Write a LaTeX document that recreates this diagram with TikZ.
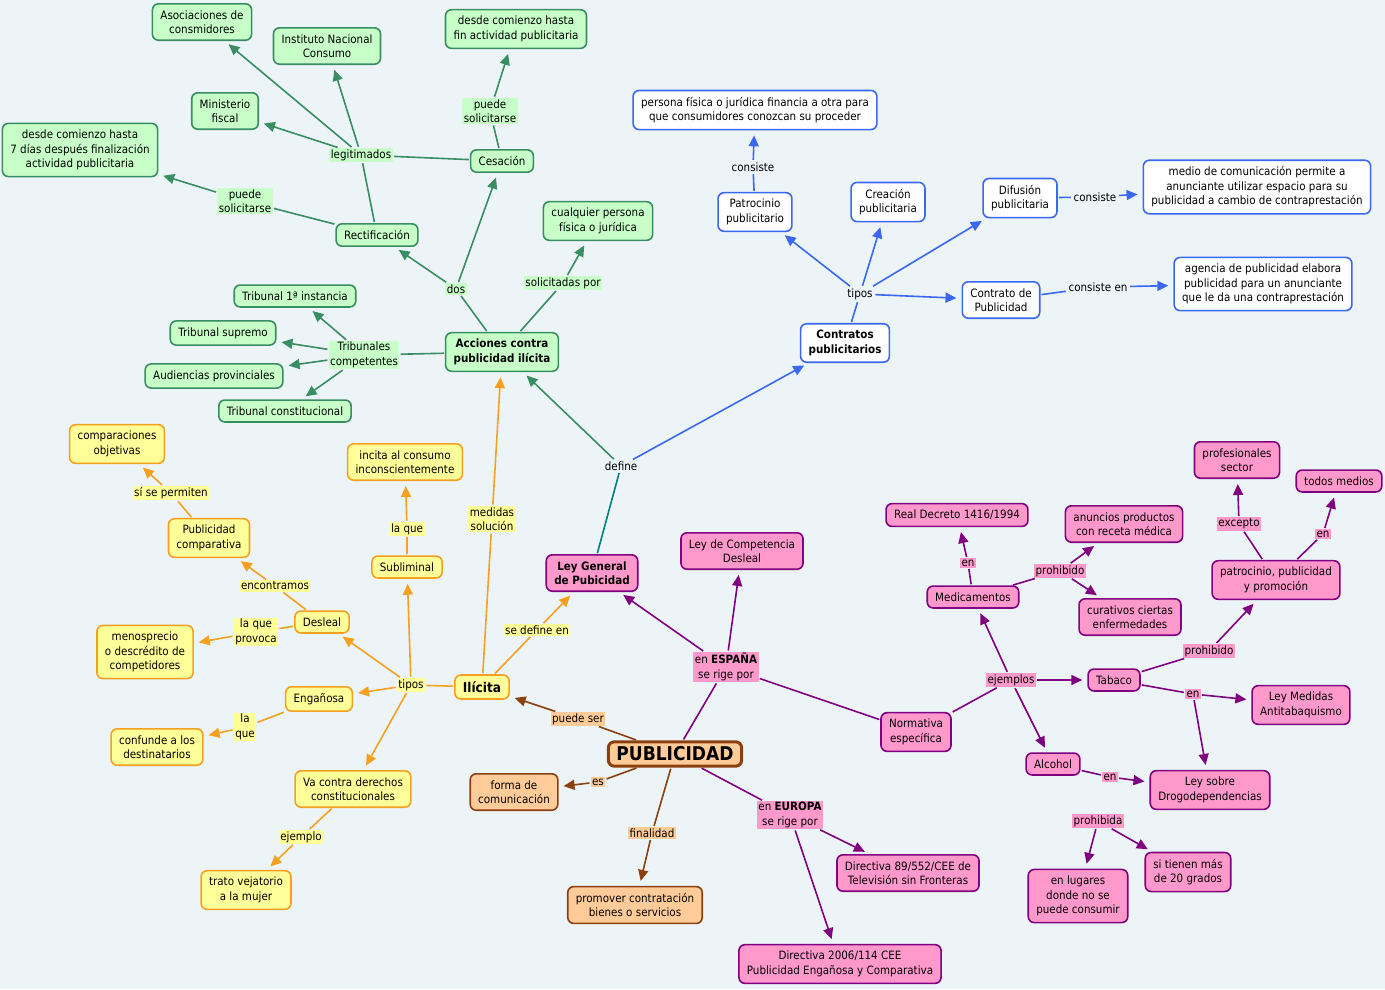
\documentclass[tikz,border=0pt]{standalone}
\usepackage{fontspec}
\setmainfont{DejaVu Sans}[FakeStretch=0.9]
\usetikzlibrary{arrows.meta}

\definecolor{bgc}{RGB}{237,244,247}
\definecolor{gfill}{RGB}{200,255,200}
\definecolor{gline}{RGB}{56,142,98}
\definecolor{bline}{RGB}{58,104,242}
\definecolor{yfill}{RGB}{255,255,153}
\definecolor{yline}{RGB}{246,160,34}
\definecolor{pfill}{RGB}{255,153,204}
\definecolor{pline}{RGB}{128,0,128}
\definecolor{cfill}{RGB}{255,204,153}
\definecolor{cline}{RGB}{139,64,16}
\definecolor{tline}{RGB}{0,128,128}

\newcommand{\mapfont}{\fontsize{11.5}{14.5}\selectfont}

\tikzstyle{box}=[draw, rounded corners=6pt, line width=1.6pt, align=center, inner xsep=8pt, inner ysep=6.5pt]
\tikzstyle{gbox}=[box, draw=gline, fill=gfill]
\tikzstyle{bbox}=[box, draw=bline, fill=white]
\tikzstyle{ybox}=[box, draw=yline, fill=yfill]
\tikzstyle{pbox}=[box, draw=pline, fill=pfill]
\tikzstyle{cbox}=[box, draw=cline, fill=cfill]
\tikzstyle{bold}=[font=\mapfont\bfseries]
\tikzstyle{lbl}=[inner sep=1.5pt, align=center]
\tikzstyle{link}=[line width=1.6pt, shorten <=1pt, shorten >=1pt]
\tikzstyle{tip}=[-{Triangle[length=11pt,width=10pt]}, shorten >=5pt]

\begin{document}
\begin{tikzpicture}[x=1pt,y=-1pt,font=\mapfont]
\fill[bgc] (0,0) rectangle (1385,989);
\useasboundingbox (0,0) rectangle (1385,989);

% acciones contra publicidad ilicita
\node[gbox] (asoc) at (202,22) {Asociaciones de\\consmidores};
\node[gbox] (inc) at (327,46) {Instituto Nacional\\Consumo};
\node[gbox] (minis) at (225,111) {Ministerio\\fiscal};
\node[gbox] (desde7) at (80,150) {desde comienzo hasta\\7 días después finalización\\actividad publicitaria};
\node[lbl, fill=gfill] (legit) at (361,155) {legitimados};
\node[gbox] (desdefin) at (516,29) {desde comienzo hasta\\fin actividad publicitaria};
\node[lbl, fill=gfill] (puede2) at (490,111) {puede\\solicitarse};
\node[gbox] (cesacion) at (502,161) {Cesación};
\node[lbl, fill=gfill] (puede1) at (245,201) {puede\\solicitarse};
\node[gbox] (rectif) at (377,235) {Rectificación};
\node[gbox] (cualq) at (598,221) {cualquier persona\\física o jurídica};
\node[lbl, fill=gfill] (solic) at (563,283) {solicitadas por};
\node[lbl, fill=gfill] (dos) at (456,289) {dos};
\node[gbox, bold] (acciones) at (502,352) {Acciones contra\\publicidad ilícita};
\node[lbl, fill=gfill] (trib) at (364,355) {Tribunales\\competentes};
\node[gbox] (t1) at (295,296) {Tribunal 1ª instancia};
\node[gbox] (tsup) at (223,333) {Tribunal supremo};
\node[gbox] (aud) at (214,376) {Audiencias provinciales};
\node[gbox] (tcons) at (285,411) {Tribunal constitucional};

% contratos
\node[bbox, bold] (contratos) at (845,343) {Contratos\\publicitarios};
\node[lbl] (tipos) at (860,294) {tipos};
\node[bbox] (patro) at (755,212) {Patrocinio\\publicitario};
\node[lbl] (consiste1) at (753,167) {consiste};
\node[bbox] (persona) at (755,110) {persona física o jurídica financia a otra para\\que consumidores conozcan su proceder};
\node[bbox] (creacion) at (888,202) {Creación\\publicitaria};
\node[bbox] (difusion) at (1020,198) {Difusión\\publicitaria};
\node[lbl] (consiste2) at (1095,197) {consiste};
\node[bbox] (medio) at (1257,187) {medio de comunicación permite a\\anunciante utilizar espacio para su\\publicidad a cambio de contraprestación};
\node[bbox] (contratop) at (1001,300) {Contrato de\\Publicidad};
\node[lbl] (consisteen) at (1098,287) {consiste en};
\node[bbox] (agencia) at (1263,284) {agencia de publicidad elabora\\publicidad para un anunciante\\que le da una contraprestación};
\node[lbl] (define) at (621,466) {define};

% ilicita
\node[ybox, font=\fontsize{13.5}{16}\selectfont\bfseries] (ilicita) at (482,687) {Ilícita};
\node[lbl, fill=yfill] (tipos2) at (411,685) {tipos};
\node[ybox] (desleal) at (322,622) {Desleal};
\node[ybox] (engan) at (319,699) {Engañosa};
\node[ybox] (sublim) at (407,567) {Subliminal};
\node[ybox] (va) at (353,789) {Va contra derechos\\constitucionales};
\node[lbl, fill=yfill] (encontramos) at (275,586) {encontramos};
\node[ybox] (pubcomp) at (209,538) {Publicidad\\comparativa};
\node[lbl, fill=yfill] (sise) at (171,493) {sí se permiten};
\node[ybox] (compar) at (117,444) {comparaciones\\objetivas};
\node[lbl, fill=yfill] (laque1) at (256,632) {la que\\provoca};
\node[ybox] (menos) at (145,652) {menosprecio\\o descrédito de\\competidores};
\node[lbl, fill=yfill] (laque2) at (407,529) {la que};
\node[ybox] (incita) at (405,462) {incita al consumo\\inconscientemente};
\node[lbl, fill=yfill] (laque3) at (245,727) {la\\que};
\node[ybox] (confunde) at (157,747) {confunde a los\\destinatarios};
\node[lbl, fill=yfill] (ejemplo) at (301,837) {ejemplo};
\node[ybox] (trato) at (246,890) {trato vejatorio\\a la mujer};
\node[lbl, fill=yfill] (medidas) at (492,519) {medidas\\solución};
\node[lbl, fill=yfill] (sedefine) at (537,630) {se define en};

% publicidad
\node[cbox, line width=3pt, inner ysep=5pt, font=\fontsize{19}{21}\selectfont\bfseries] (publicidad) at (675,754) {PUBLICIDAD};
\node[lbl, fill=cfill] (puedeser) at (578,719) {puede ser};
\node[cbox] (forma) at (514,792) {forma de\\comunicación};
\node[lbl, fill=cfill] (es) at (598,782) {es};
\node[lbl, fill=cfill] (finalidad) at (652,833) {finalidad};
\node[cbox] (promover) at (635,905) {promover contratación\\bienes o servicios};

% normativa
\node[pbox, bold] (leygen) at (592,573) {Ley General\\de Pubicidad};
\node[lbl, fill=pfill] (espana) at (726,667) {en \textbf{ESPAÑA}\\se rige por};
\node[pbox] (leycomp) at (742,551) {Ley de Competencia\\Desleal};
\node[pbox] (normativa) at (916,732) {Normativa\\específica};
\node[lbl, fill=pfill] (europa) at (790,815) {en \textbf{EUROPA}\\se rige por};
\node[pbox] (dir89) at (908,873) {Directiva 89/552/CEE de\\Televisión sin Fronteras};
\node[pbox] (dir2006) at (840,964) {Directiva 2006/114 CEE\\Publicidad Engañosa y Comparativa};
\node[lbl, fill=pfill] (ejemplos) at (1011,680) {ejemplos};
\node[pbox] (medic) at (973,597) {Medicamentos};
\node[lbl, fill=pfill] (en1) at (968,563) {en};
\node[pbox] (real) at (957,515) {Real Decreto 1416/1994};
\node[lbl, fill=pfill] (prohib1) at (1060,571) {prohibido};
\node[pbox] (anuncios) at (1124,524) {anuncios productos\\con receta médica};
\node[pbox] (curativos) at (1130,617) {curativos ciertas\\enfermedades};
\node[pbox] (tabaco) at (1114,680) {Tabaco};
\node[lbl, fill=pfill] (prohib2) at (1209,651) {prohibido};
\node[pbox] (patrocinio) at (1276,580) {patrocinio, publicidad\\y promoción};
\node[lbl, fill=pfill] (excepto) at (1239,524) {excepto};
\node[pbox] (prof) at (1237,460) {profesionales\\sector};
\node[lbl, fill=pfill] (en2) at (1323,534) {en};
\node[pbox] (todos) at (1339,481) {todos medios};
\node[lbl, fill=pfill] (en3) at (1193,694) {en};
\node[pbox] (leymed) at (1301,705) {Ley Medidas\\Antitabaquismo};
\node[pbox] (leydrog) at (1210,790) {Ley sobre\\Drogodependencias};
\node[pbox] (alcohol) at (1053,764) {Alcohol};
\node[lbl, fill=pfill] (en4) at (1110,777) {en};
\node[lbl, fill=pfill] (prohibida) at (1098,821) {prohibida};
\node[pbox] (lugares) at (1078,896) {en lugares\\donde no se\\puede consumir};
\node[pbox] (veinte) at (1188,872) {si tienen más\\de 20 grados};

\draw[link, gline]
    (acciones) edge (dos)
    (dos) edge[tip] (rectif)
    (dos) edge[tip] (cesacion)
    (rectif) edge (legit)
    (cesacion) edge (legit)
    (legit) edge[tip] (asoc)
    (legit) edge[tip] (inc)
    (legit) edge[tip] (minis)
    (rectif) edge (puede1)
    (puede1) edge[tip] (desde7)
    (cesacion) edge (puede2)
    (puede2) edge[tip] (desdefin)
    (acciones) edge (solic)
    (solic) edge[tip] (cualq)
    (acciones) edge (trib)
    (trib) edge[tip] (t1)
    (trib) edge[tip] (tsup)
    (trib) edge[tip] (aud)
    (trib) edge[tip] (tcons)
    (define) edge[tip] (acciones);

\draw[link, bline]
    (contratos) edge (tipos)
    (tipos) edge[tip] (patro)
    (tipos) edge[tip] (creacion)
    (tipos) edge[tip] (difusion)
    (tipos) edge[tip] (contratop)
    (patro) edge (consiste1)
    (consiste1) edge[tip] (persona)
    (difusion) edge (consiste2)
    (consiste2) edge[tip] (medio)
    (contratop) edge (consisteen)
    (consisteen) edge[tip] (agencia)
    (define) edge[tip] (contratos);

\draw[link, tline] (leygen) edge (define);

\draw[link, yline]
    (ilicita) edge (tipos2)
    (tipos2) edge[tip] (desleal)
    (tipos2) edge[tip] (engan)
    (tipos2) edge[tip] (sublim)
    (tipos2) edge[tip] (va)
    (desleal) edge (encontramos)
    (encontramos) edge[tip] (pubcomp)
    (pubcomp) edge (sise)
    (sise) edge[tip] (compar)
    (desleal) edge (laque1)
    (laque1) edge[tip] (menos)
    (sublim) edge (laque2)
    (laque2) edge[tip] (incita)
    (engan) edge (laque3)
    (laque3) edge[tip] (confunde)
    (va) edge (ejemplo)
    (ejemplo) edge[tip] (trato)
    (ilicita) edge (medidas)
    (medidas) edge[tip] (acciones)
    (ilicita) edge (sedefine)
    (sedefine) edge[tip] (leygen);

\draw[link, cline]
    (publicidad) edge (puedeser)
    (puedeser) edge[tip] (ilicita)
    (publicidad) edge (es)
    (es) edge[tip] (forma)
    (publicidad) edge (finalidad)
    (finalidad) edge[tip] (promover);

\draw[link, pline]
    (publicidad) edge (espana)
    (espana) edge[tip] (leygen)
    (espana) edge[tip] (leycomp)
    (espana) edge (normativa)
    (publicidad) edge (europa)
    (europa) edge[tip] (dir89)
    (europa) edge[tip] (dir2006)
    (normativa) edge (ejemplos)
    (ejemplos) edge[tip] (medic)
    (ejemplos) edge[tip] (tabaco)
    (ejemplos) edge[tip] (alcohol)
    (medic) edge (en1)
    (en1) edge[tip] (real)
    (medic) edge (prohib1)
    (prohib1) edge[tip] (anuncios)
    (prohib1) edge[tip] (curativos)
    (tabaco) edge (prohib2)
    (prohib2) edge[tip] (patrocinio)
    (patrocinio) edge (excepto)
    (excepto) edge[tip] (prof)
    (patrocinio) edge (en2)
    (en2) edge[tip] (todos)
    (tabaco) edge (en3)
    (en3) edge[tip] (leymed)
    (en3) edge[tip] (leydrog)
    (alcohol) edge (en4)
    (en4) edge[tip] (leydrog)
    (prohibida) edge[tip] (lugares)
    (prohibida) edge[tip] (veinte);

\end{tikzpicture}
\end{document}
